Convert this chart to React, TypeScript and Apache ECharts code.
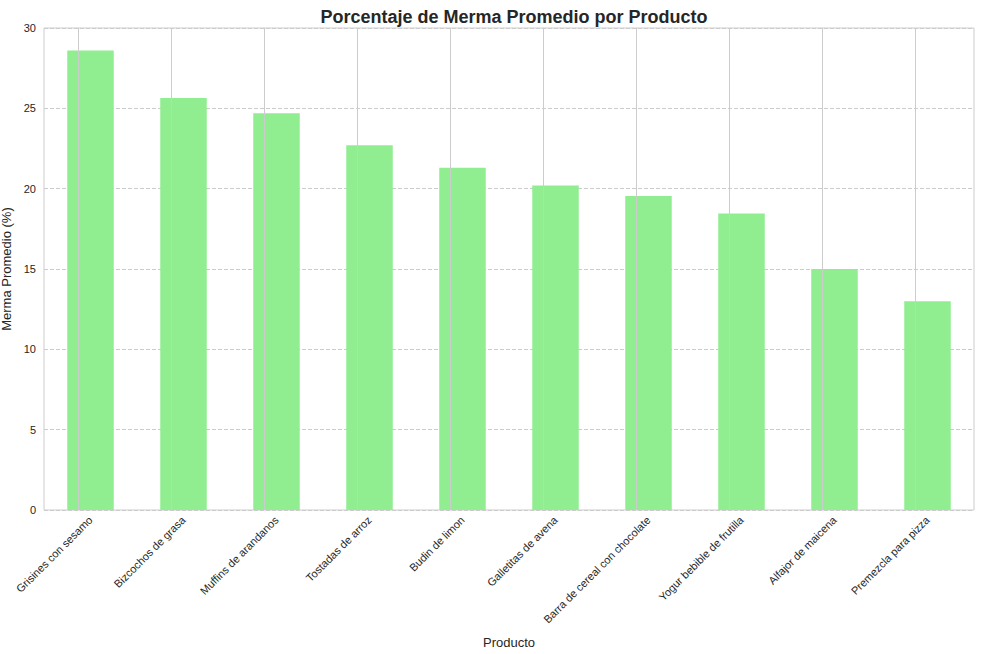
import React, { useEffect, useRef } from "react";
import * as echarts from "echarts";

const categories = ["Grisines con sesamo","Bizcochos de grasa","Muffins de arandanos","Tostadas de arroz","Budin de limon","Galletitas de avena","Barra de cereal con chocolate","Yogur bebible de frutilla","Alfajor de maicena","Premezcla para pizza"];
const values = [28.6, 25.65, 24.7, 22.7, 21.3, 20.2, 19.55, 18.45, 15.0, 13.0];

export default function App() {
  const ref = useRef<HTMLDivElement>(null);
  useEffect(() => {
    const chart = echarts.init(ref.current!, null, { renderer: "svg" });
    const font = "Liberation Sans";
    chart.setOption({
      animation: false,
      textStyle: { fontFamily: font },
      title: { text: "Porcentaje de Merma Promedio por Producto", left: 509, top: 3, textAlign: "center",
        textStyle: { fontSize: 18, fontWeight: "bold", color: "#262626", fontFamily: font } },
      grid: { left: 44, right: 7, top: 28, bottom: 144, show: true, borderColor: "#cccccc", borderWidth: 1,
        outerBoundsMode: "none", containLabel: false },
      xAxis: { type: "category", data: categories, name: "Producto", nameLocation: "middle", nameGap: 126,
        nameTextStyle: { fontSize: 13, color: "#262626", fontFamily: font },
        axisLine: { show: false }, axisTick: { show: false }, splitLine: { show: false },
        axisLabel: { rotate: 45, fontSize: 11, color: "#262626", interval: 0, margin: 8, fontFamily: font } },
      yAxis: { type: "value", min: 0, max: 30, interval: 5, name: "Merma Promedio (%)", nameLocation: "middle", nameGap: 28,
        nameTextStyle: { fontSize: 13, color: "#262626", fontFamily: font },
        axisLine: { show: false }, axisTick: { show: false },
        axisLabel: { fontSize: 11, color: "#262626", fontFamily: font },
        splitLine: { lineStyle: { color: "#cccccc", type: "dashed" } } },
      series: [
        { type: "bar", data: [], z: 1, silent: true,
          markLine: { symbol: "none", silent: true, label: { show: false },
            lineStyle: { color: "#cccccc", type: "solid", width: 1 },
            data: categories.map(c => ({ xAxis: c })) } },
        { type: "bar", data: values, barWidth: "50%", barGap: "-100%", z: 2, itemStyle: { color: "#90ee90" } },
      ],
    });
    return () => chart.dispose();
  }, []);
  return <div ref={ref} style={{ position: "absolute", left: 0, top: 0, width: 981, height: 654 }} />;
}
